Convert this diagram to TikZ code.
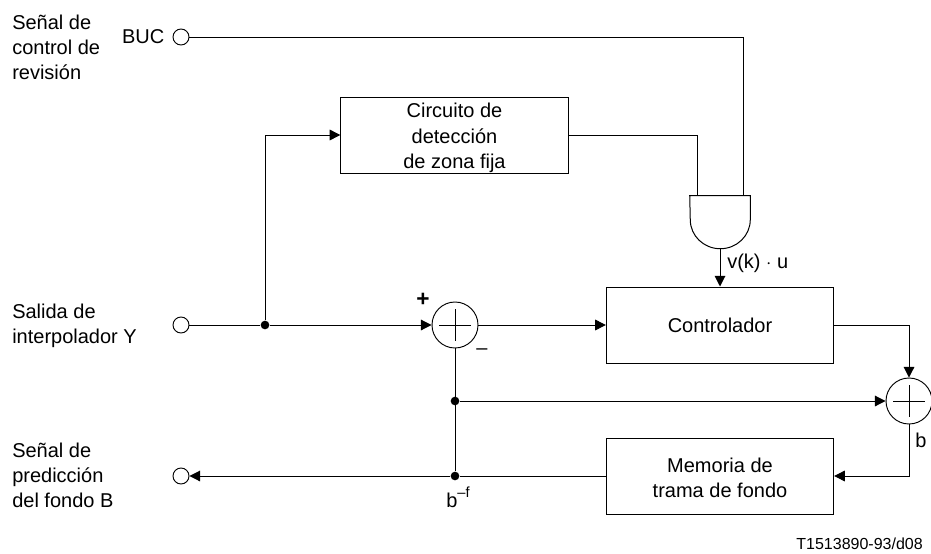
\documentclass[tikz,border=0pt]{standalone}
\usepackage{fontspec}
\setmainfont{Liberation Sans}
\usetikzlibrary{arrows.meta, positioning}
\tikzset{
  block/.style={rectangle, draw=black, line width=0.75pt, minimum width=170.5pt, minimum height=57pt, align=center, inner sep=0pt},
  terminal/.style={circle, draw=black, line width=0.7pt, minimum size=12pt, inner sep=0pt},
  junction/.style={circle, fill=black, minimum size=6.5pt, inner sep=0pt},
  adder/.style={circle, draw=black, line width=0.7pt, minimum size=34.5pt, inner sep=0pt,
    path picture={
      \draw[line width=0.65pt] ([xshift=-11.75pt]path picture bounding box.center) -- ([xshift=11.75pt]path picture bounding box.center);
      \draw[line width=0.65pt] ([yshift=-11.75pt]path picture bounding box.center) -- ([yshift=11.75pt]path picture bounding box.center);
    }},
  gatebox/.style={rectangle, minimum width=45pt, minimum height=39.75pt, inner sep=0pt},
  caption/.style={align=left, anchor=west, inner sep=0pt},
  tag/.style={inner sep=0pt},
  arrow/.style={-{Triangle[length=8pt, width=8pt]}, line width=0.75pt},
  wire/.style={line width=0.75pt}
}

\begin{document}
\begin{tikzpicture}[x=0.75pt, y=-0.75pt, font=\fontsize{15pt}{18.75pt}\selectfont]
  \useasboundingbox (0,0) rectangle (931,553);
  % terminals and their captions
  \node[terminal] (buc) at (181,37) {};
  \node[terminal] (ysal) at (181,325) {};
  \node[terminal] (bsal) at (181,476) {};
  \node[caption] (capbuc) at (12,47) {Señal de\\control de\\revisión};
  \node[tag, left=6pt of buc] (labbuc) {BUC};
  \node[caption] (capy) at (12,326) {Salida de\\interpolador Y};
  \node[caption] (capb) at (12,475) {Señal de\\predicción\\del fondo B};
  % blocks
  \node[block] (det) at (454.5,135) {\rule{0pt}{15pt}Circuito de\\[0.5pt]detección\\de zona fija};
  \node[block] (ctrl) at (720,325) {Controlador};
  \node[block] (mem) at (720,476) {\rule{0pt}{14pt}Memoria de\\trama de fondo};
  \node[adder] (sum1) at (455,325) {};
  \node[adder] (sum2) at (909,401) {};
  \node[gatebox] (gate) at (720,222.5) {};
  \draw[wire] (gate.north west) -- (gate.north east) -- ++(0,-18pt)
    arc[start angle=0, end angle=-180, x radius=22.5pt, y radius=21.75pt] -- cycle;
  \coordinate (gatea) at (697,196);
  \coordinate (gateb) at (743,196);
  % junctions
  \node[junction] (jy) at (265,325) {};
  \node[junction] (jm) at (455,401) {};
  \node[junction] (jb) at (455,476) {};
  % connectors
  \draw[wire] (buc.east) -| (gateb);
  \draw[wire] (det.east) -| (gatea);
  \draw[arrow] (gate.south) -- (ctrl.north);
  \draw[wire] (ysal.east) -- (jy);
  \draw[arrow] (jy) |- (det.west);
  \draw[arrow] (jy) -- (sum1.west);
  \draw[arrow] (sum1.east) -- (ctrl.west);
  \draw[arrow] (ctrl.east) -| (sum2.north);
  \draw[wire] (sum1.south) -- (jb);
  \draw[arrow] (jm) -- (sum2.west);
  \draw[arrow] (sum2.south) |- (mem.east);
  \draw[wire] (mem.west) -- (jb);
  \draw[arrow] (jb) -- (bsal.east);
  % labels
  \node[tag, font=\fontsize{17pt}{18pt}\selectfont\bfseries] (plus) at (423,300) {+};
  \node[tag] (minus) at (482,352) {–};
  \node[tag, anchor=west] (vku) at (727,263) {v(k) $\cdot$ u};
  \node[tag] (lbb) at (921,440) {b};
  \node[tag, anchor=base west] (lbf) at (446,507) {b\raisebox{7pt}{\fontsize{11pt}{13pt}\selectfont –f}};
  \node[tag, anchor=east, font=\fontsize{12pt}{14pt}\selectfont] (ref) at (923,544) {T1513890-93/d08};
\end{tikzpicture}
\end{document}
